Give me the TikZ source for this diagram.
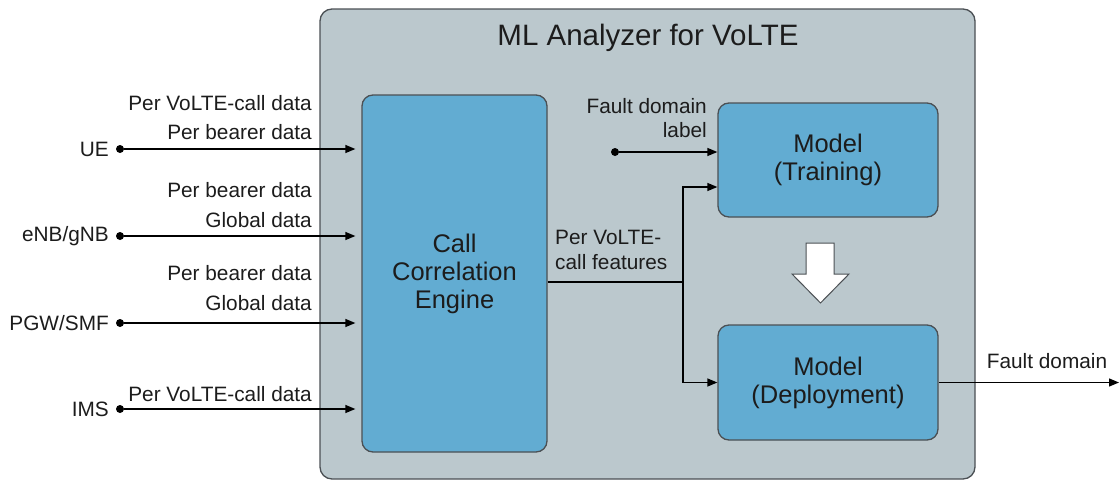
\documentclass[tikz,border=0pt]{standalone}
\usepackage{fontspec}
\setmainfont{Liberation Sans}
\usetikzlibrary{arrows.meta}

\definecolor{panelgray}{RGB}{187,200,205}
\definecolor{engineblue}{RGB}{98,172,210}
\definecolor{edgegray}{RGB}{75,80,84}
\definecolor{inkcolor}{RGB}{28,28,28}

\tikzset{
  panel/.style={draw=edgegray, fill=panelgray, line width=1.3pt, rounded corners=12pt, inner sep=0pt},
  blk/.style={draw=edgegray, fill=engineblue, line width=1.3pt, rounded corners=11pt,
    text=inkcolor, align=center, inner sep=0pt, font=\fontsize{25.5}{28}\selectfont},
  lbl/.style={text=inkcolor, inner sep=0pt, font=\fontsize{20.8}{29.5}\selectfont},
  dot/.style={circle, fill=black, inner sep=0pt, minimum size=8pt},
  feed/.style={line width=1.3pt, -{Triangle[length=10pt,width=8pt]}},
}

% name, y, source, data labels, y of data labels
\newcommand{\feedin}[5]{%
  \node[dot] (#1) at (120,#2) {};
  \node[lbl, anchor=east] (#1src) at (109,#2) {#3};
  \node[lbl, anchor=east, align=right] (#1data) at (312,#5) {#4};
  \draw[feed] (#1) -- ([xshift=-6pt]#1 -| cce.west);
}

\begin{document}
\begin{tikzpicture}[x=1pt, y=-1pt]
    \useasboundingbox (0,0) rectangle (1120,482);
    % Analyzer panel
    \node[panel, minimum width=655pt, minimum height=470pt] (panel) at (647.5,244) {};
    \node[text=inkcolor, font=\fontsize{29.5}{31}\selectfont] (title) at (648,38) {ML Analyzer for VoLTE};
    % Blocks
    \node[blk, minimum width=185pt, minimum height=357pt] (cce) at (454.5,273.5) {Call\\Correlation\\Engine};
    \node[blk, minimum width=220pt, minimum height=114pt] (train) at (828,160) {Model\\(Training)};
    \node[blk, minimum width=220pt, minimum height=115pt] (deploy) at (828,382.5) {Model\\(Deployment)};
    % Inputs (name, y, source, data, data y)
    \feedin{ue}{149}{UE}{Per VoLTE-call data\\Per bearer data}{117.5}
    \feedin{enb}{236}{eNB/gNB}{Per bearer data\\Global data}{205}
    \feedin{pgw}{323}{PGW/SMF}{Per bearer data\\Global data}{288}
    \feedin{ims}{409}{IMS}{Per VoLTE-call data}{394}
    % Features to the models
    \coordinate (split) at (683,282);
    \node[lbl, anchor=west, align=left, font=\fontsize{20.8}{25}\selectfont] (feat) at (555,249.5) {Per VoLTE-\\call features};
    \draw[line width=1.3pt] (cce.east |- split) -- (split);
    \draw[feed] (split) |- ([yshift=-27pt]train.west);
    \draw[feed] (split) |- (deploy.west);
    % Fault domain label
    \node[dot] (fdl) at (615,152) {};
    \node[lbl, anchor=east, align=right, font=\fontsize{20.8}{24}\selectfont] (fdltxt) at (707,118) {Fault domain\\label};
    \draw[feed] (fdl) -- ([yshift=8pt]train.west);
    % Training to deployment
    \draw[edgegray, fill=white, line width=1pt] (806,243) -- (834,243) -- (834,274) -- (849,274)
      -- (820.5,303) -- (792,274) -- (806,274) -- cycle;
    % Output
    \coordinate (out) at (1119,382.5);
    \draw[feed] (deploy.east) -- (out);
    \node[lbl] (outtxt) at (1047,361) {Fault domain};
\end{tikzpicture}
\end{document}
